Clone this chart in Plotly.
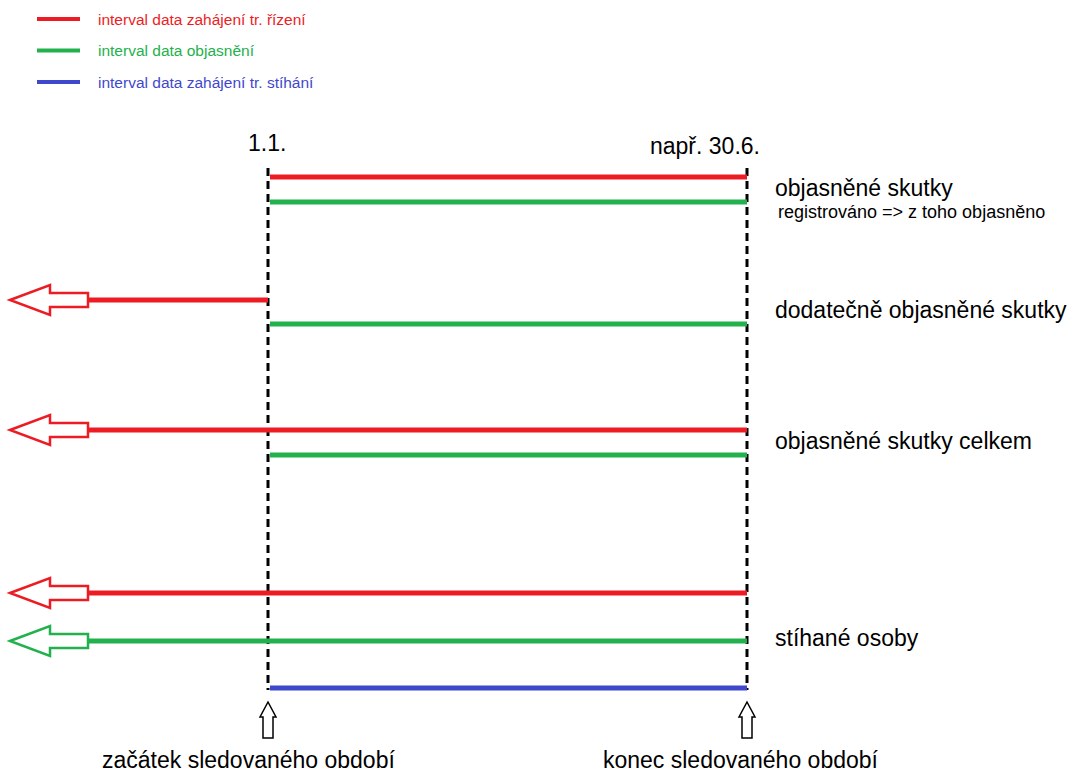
import plotly.graph_objects as go

# ---------------- data ----------------
series_names = ["interval data zahájení tr. řízení",
                "interval data objasnění",
                "interval data zahájení tr. stíhání"]
series_colors = ["#ed1c24", "#22b14c", "#3f48cc"]

period_labels = ["1.1.", "např. 30.6."]
period_start = 0.0   # 1.1. (months from start of year)
period_end = 6.0     # 30.6.

row_labels = ["objasněné skutky", "dodatečně objasněné skutky",
              "objasněné skutky celkem", "stíhané osoby"]
row_sublabels = ["registrováno => z toho objasněno", "", "", ""]

# intervals: row, series, start (None = before observed period -> arrow), end
bar_row = [0, 0, 1, 1, 2, 2, 3, 3, 3]
bar_series = [0, 1, 0, 1, 0, 1, 0, 1, 2]
bar_start = [0, 0, None, 0, None, 0, None, None, 0]
bar_end = [6, 6, 0, 6, 6, 6, 6, 6, 6]

bottom_labels = ["začátek sledovaného období", "konec sledovaného období"]

# ---------------- layout constants ----------------
W, H = 1075, 773
PX_START, PX_END = 268, 747
K = (PX_END - PX_START) / (period_end - period_start)   # px per month
x_min = period_start - PX_START / K
x_max = period_start + (W - PX_START) / K

def dx(px):  # pixel width -> months
    return px / K

# vertical placement (pixel rows) of each interval
bar_y = [177, 202, 300, 324, 430, 455, 593, 641, 688]
row_label_y = [188, 310, 441, 638]
arrow_tip = period_start - dx(258)
arrow_head = period_start - dx(218)
arrow_shaft = period_start - dx(180)

fig = go.Figure()
shapes = []
annotations = []

BIG = 23

# dashed period boundaries
for xv in (period_start, period_end):
    fig.add_trace(go.Scatter(x=[xv, xv], y=[168, 690], mode="lines",
                             line=dict(color="black", width=3, dash="8px,5px"),
                             showlegend=False, hoverinfo="skip"))

# intervals
for r, s, x0, x1, y in zip(bar_row, bar_series, bar_start, bar_end, bar_y):
    col = series_colors[s]
    if x0 is None:
        xs = arrow_shaft
        shapes.append(dict(
            type="path", xref="x", yref="y",
            path=(f"M {arrow_tip},{y} L {arrow_head},{y-15} L {arrow_head},{y-7} "
                  f"L {arrow_shaft},{y-7} L {arrow_shaft},{y+7} L {arrow_head},{y+7} "
                  f"L {arrow_head},{y+15} Z"),
            line=dict(color=col, width=2.5), fillcolor="white", layer="above"))
    else:
        xs = x0 + dx(2)
    fig.add_trace(go.Scatter(x=[xs, x1], y=[y, y], mode="lines",
                             line=dict(color=col, width=5),
                             showlegend=False, hoverinfo="skip"))

# row labels
for lab, sub, y in zip(row_labels, row_sublabels, row_label_y):
    annotations.append(dict(x=period_end + dx(26), y=y, xref="x", yref="y",
                            text=lab, showarrow=False, xanchor="left", yanchor="middle",
                            font=dict(size=BIG, color="black")))
    if sub:
        annotations.append(dict(x=period_end + dx(29), y=y + 24, xref="x", yref="y",
                                text=sub, showarrow=False, xanchor="left", yanchor="middle",
                                font=dict(size=18, color="black")))

# period labels on top
annotations.append(dict(x=period_start - dx(1), y=143, xref="x", yref="y", text=period_labels[0],
                        showarrow=False, xanchor="center", yanchor="middle",
                        font=dict(size=BIG, color="black")))
annotations.append(dict(x=period_end - dx(42), y=146, xref="x", yref="y", text=period_labels[1],
                        showarrow=False, xanchor="center", yanchor="middle",
                        font=dict(size=BIG, color="black")))

# up arrows + bottom labels
for xv, lab, off in zip((period_start, period_end), bottom_labels, (-20, -6)):
    shapes.append(dict(
        type="path", xref="x", yref="y",
        path=(f"M {xv},{702} L {xv+dx(8)},{717} L {xv+dx(5)},{717} L {xv+dx(5)},{738} "
              f"L {xv-dx(5)},{738} L {xv-dx(5)},{717} L {xv-dx(8)},{717} Z"),
        line=dict(color="black", width=1.5), fillcolor="white"))
    annotations.append(dict(x=xv + dx(off), y=760, xref="x", yref="y", text=lab,
                            showarrow=False, xanchor="center", yanchor="middle",
                            font=dict(size=BIG, color="black")))

# legend (manual)
for i, (name, col) in enumerate(zip(series_names, series_colors)):
    ly = 19 + i * 31.5
    shapes.append(dict(type="line", xref="x", yref="y",
                       x0=x_min + dx(37), x1=x_min + dx(80), y0=ly, y1=ly,
                       line=dict(color=col, width=4)))
    annotations.append(dict(x=x_min + dx(96), y=ly, xref="x", yref="y", text=name,
                            showarrow=False, xanchor="left", yanchor="middle",
                            font=dict(size=15.5, color=col)))

fig.update_layout(
    width=W, height=H,
    margin=dict(l=0, r=0, t=0, b=0),
    paper_bgcolor="white", plot_bgcolor="white",
    font=dict(family="Liberation Sans, Arial, sans-serif"),
    xaxis=dict(range=[x_min, x_max], visible=False, fixedrange=True),
    yaxis=dict(range=[H, 0], visible=False, fixedrange=True),
    shapes=shapes, annotations=annotations,
    showlegend=False,
)

fig.write_html("out.html", config={"displayModeBar": False},
               post_script="document.body.style.margin='0';document.body.style.overflow='hidden';")
